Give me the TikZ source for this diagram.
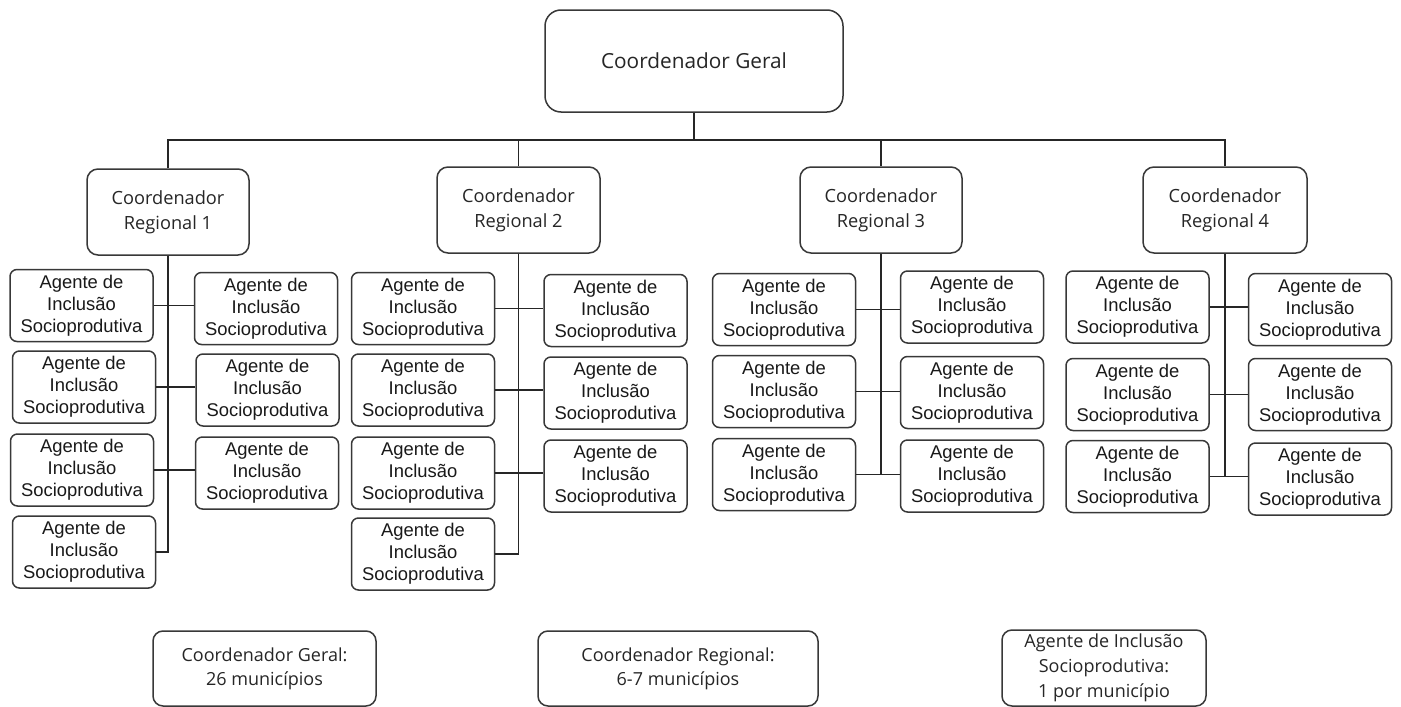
\documentclass[tikz,border=0pt]{standalone}
\usepackage{fontspec}
\setmainfont{Liberation Sans}
\newfontfamily\osans{Open Sans}
\begin{document}
\begin{tikzpicture}[x=1pt,y=-1pt,
  ln/.style={draw=black!78, line width=1.5pt},
  conn/.style={draw=black!85, line width=1.4pt},
  agent/.style={ln, rounded corners=7pt, minimum width=143pt, minimum height=72pt, inner sep=0pt, align=center, font=\fontsize{18.4}{22}\selectfont, text=black!90},
  regbox/.style={ln, rounded corners=11pt, minimum width=162pt, minimum height=86pt, inner sep=0pt, align=center, font=\osans\fontsize{18.2}{25}\selectfont, text=black!85},
  topbox/.style={ln, rounded corners=16pt, minimum width=298pt, minimum height=102pt, inner sep=0pt, align=center, font=\osans\fontsize{20.8}{25}\selectfont, text=black!85},
  legbox/.style={ln, rounded corners=10pt, minimum height=75pt, inner sep=0pt, align=center, font=\osans\fontsize{18}{24}\selectfont, text=black!85}
]
\useasboundingbox (0,0) rectangle (1401,707);
\fill[white] (0,0) rectangle (1401,707);

% top
\node[topbox] (top) at (694,61) {Coordenador Geral};
% regionals
\node[regbox] (r1) at (168,212) {Coordenador\\Regional 1};
\node[regbox, minimum width=163pt] (r2) at (518.5,210) {Coordenador\\Regional 2};
\node[regbox] (r3) at (881,210) {Coordenador\\Regional 3};
\node[regbox, minimum width=164pt] (r4) at (1225,210) {Coordenador\\Regional 4};

\coordinate (bus) at (694,140);

% region 1 agents
\node[agent] (a1l1) at (81.5,305.5) {Agente de\\Inclusão\\Socioprodutiva};
\node[agent] (a1l2) at (84,387) {Agente de\\Inclusão\\Socioprodutiva};
\node[agent] (a1l3) at (82,470) {Agente de\\Inclusão\\Socioprodutiva};
\node[agent] (a1l4) at (84,552) {Agente de\\Inclusão\\Socioprodutiva};
\node[agent] (a1r1) at (266,308.5) {Agente de\\Inclusão\\Socioprodutiva};
\node[agent] (a1r2) at (267.5,390) {Agente de\\Inclusão\\Socioprodutiva};
\node[agent] (a1r3) at (267,473) {Agente de\\Inclusão\\Socioprodutiva};
% region 2 agents
\node[agent] (a2l1) at (423,308.5) {Agente de\\Inclusão\\Socioprodutiva};
\node[agent] (a2l2) at (423,390) {Agente de\\Inclusão\\Socioprodutiva};
\node[agent] (a2l3) at (423,473) {Agente de\\Inclusão\\Socioprodutiva};
\node[agent] (a2l4) at (423,554) {Agente de\\Inclusão\\Socioprodutiva};
\node[agent] (a2r1) at (615.5,310.5) {Agente de\\Inclusão\\Socioprodutiva};
\node[agent] (a2r2) at (615.5,393) {Agente de\\Inclusão\\Socioprodutiva};
\node[agent] (a2r3) at (615.5,476) {Agente de\\Inclusão\\Socioprodutiva};
% region 3 agents
\node[agent] (a3l1) at (784,309.5) {Agente de\\Inclusão\\Socioprodutiva};
\node[agent] (a3l2) at (784,391.5) {Agente de\\Inclusão\\Socioprodutiva};
\node[agent] (a3l3) at (784,474.5) {Agente de\\Inclusão\\Socioprodutiva};
\node[agent] (a3r1) at (972,307) {Agente de\\Inclusão\\Socioprodutiva};
\node[agent] (a3r2) at (972,392.5) {Agente de\\Inclusão\\Socioprodutiva};
\node[agent] (a3r3) at (972,476) {Agente de\\Inclusão\\Socioprodutiva};
% region 4 agents
\node[agent] (a4l1) at (1137.5,307) {Agente de\\Inclusão\\Socioprodutiva};
\node[agent] (a4l2) at (1137.5,394.5) {Agente de\\Inclusão\\Socioprodutiva};
\node[agent] (a4l3) at (1137.5,476.5) {Agente de\\Inclusão\\Socioprodutiva};
\node[agent] (a4r1) at (1320,309.5) {Agente de\\Inclusão\\Socioprodutiva};
\node[agent] (a4r2) at (1320,394.5) {Agente de\\Inclusão\\Socioprodutiva};
\node[agent] (a4r3) at (1320,479) {Agente de\\Inclusão\\Socioprodutiva};

% legend boxes
\node[legbox, minimum width=223pt] (b1) at (264.5,668.5) {Coordenador Geral:\\26 municípios};
\node[legbox, minimum width=280pt] (b2) at (678,668.5) {Coordenador Regional:\\6-7 municípios};
\node[legbox, minimum width=204pt, minimum height=76pt, font=\osans\fontsize{18}{25}\selectfont] (b3) at (1104,668) {Agente de Inclusão\\Socioprodutiva:\\1 por município};

% top connectors
\draw[conn] (top.south) -- (bus);
\draw[conn] (r1.north) -- (r1.north |- bus) -- (r4.north |- bus) -- (r4.north);
\draw[conn] (r2.north) -- (r2.north |- bus);
\draw[conn] (r3.north) -- (r3.north |- bus);

% region 1 connectors
\draw[conn] (r1.south) -- (r1.south |- a1l4.east) -- (a1l4.east);
\draw[conn] (a1l1.east) -- (a1r1.west |- a1l1.east);
\draw[conn] (a1l2.east) -- (a1r2.west |- a1l2.east);
\draw[conn] (a1l3.east) -- (a1r3.west |- a1l3.east);
% region 2 connectors
\draw[conn] (r2.south) -- (r2.south |- a2l4.east) -- (a2l4.east);
\draw[conn] (a2l1.east) -- (a2r1.west |- a2l1.east);
\draw[conn] (a2l2.east) -- (a2r2.west |- a2l2.east);
\draw[conn] (a2l3.east) -- (a2r3.west |- a2l3.east);
% region 3 connectors
\draw[conn] (r3.south) -- (r3.south |- a3l3.east);
\draw[conn] (a3l1.east) -- (a3r1.west |- a3l1.east);
\draw[conn] (a3l2.east) -- (a3r2.west |- a3l2.east);
\draw[conn] (a3l3.east) -- (a3r3.west |- a3l3.east);
% region 4 connectors
\draw[conn] (r4.south) -- (r4.south |- a4l3.east);
\draw[conn] (a4l1.east) -- (a4r1.west |- a4l1.east);
\draw[conn] (a4l2.east) -- (a4r2.west |- a4l2.east);
\draw[conn] (a4l3.east) -- (a4r3.west |- a4l3.east);
\end{tikzpicture}
\end{document}
